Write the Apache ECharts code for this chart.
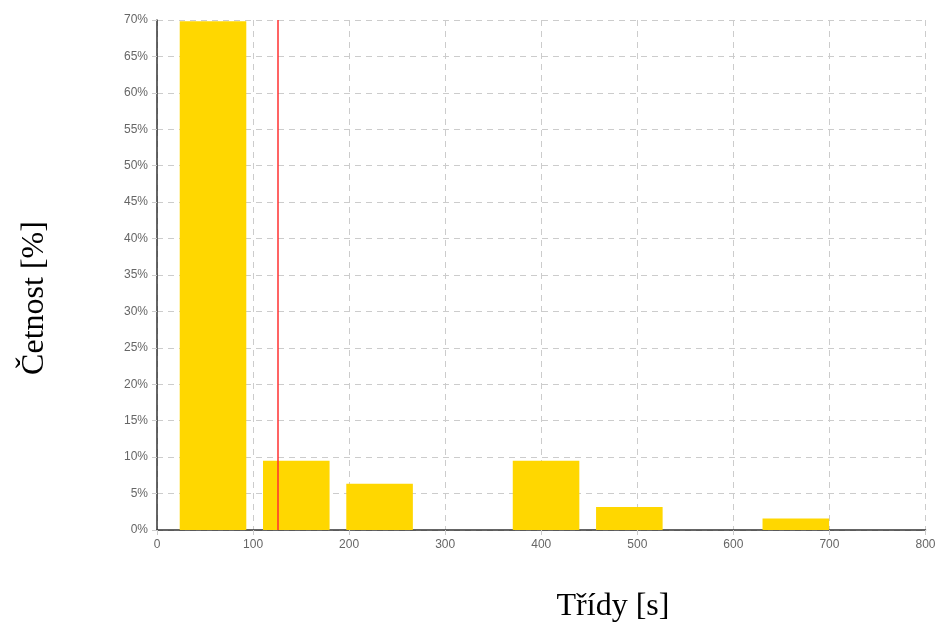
<!DOCTYPE html>
<html>
<head>
<meta charset="utf-8">
<script src="https://cdn.jsdelivr.net/npm/echarts@6/dist/echarts.min.js"></script>
<style>
  html, body { margin: 0; padding: 0; background: #fff; }
  #chart { width: 941px; height: 628px; }
</style>
</head>
<body>
<div id="chart"></div>
<script>
// Histogram classes (centres, in seconds) and relative frequencies in %
const classCenters = [58.3, 145.0, 231.7, 318.3, 405.0, 491.7, 578.3, 665.0];
const frequencies = [69.84, 9.52, 6.35, 0, 9.52, 3.17, 0, 1.59];
const barSpan = 69.3;      // drawn width of each class bar, seconds
const meanValue = 126;     // position of the red reference line
const xTicks = [0, 100, 200, 300, 400, 500, 600, 700, 800];
const yTicks = [0, 5, 10, 15, 20, 25, 30, 35, 40, 45, 50, 55, 60, 65, 70];

const chart = echarts.init(document.getElementById('chart'));

const barData = classCenters.map((c, i) => [c, frequencies[i]]);

chart.setOption({
  animation: false,
  grid: { left: 157, right: 15.5, top: 20, bottom: 98, containLabel: false },
  xAxis: {
    type: 'value',
    min: xTicks[0],
    max: xTicks[xTicks.length - 1],
    interval: 100,
    axisLine: { show: true, onZero: false, lineStyle: { color: '#333', width: 1.5 } },
    axisTick: { show: true, length: 5, lineStyle: { color: '#ccc' } },
    axisLabel: { color: '#666', fontFamily: 'Liberation Sans', fontSize: 12, margin: 9 },
    splitLine: { show: true, lineStyle: { color: '#ccc', type: [6, 5], width: 1 } }
  },
  yAxis: {
    type: 'value',
    min: yTicks[0],
    max: yTicks[yTicks.length - 1],
    interval: 5,
    axisLine: { show: true, lineStyle: { color: '#333', width: 1.5 } },
    axisTick: { show: true, length: 5, lineStyle: { color: '#ccc' } },
    axisLabel: { color: '#666', fontFamily: 'Liberation Sans', fontSize: 12, margin: 9, formatter: '{value}%' },
    splitLine: { show: true, lineStyle: { color: '#ccc', type: [6, 5], width: 1 } }
  },
  graphic: [
    {
      type: 'text',
      rotation: Math.PI / 2,
      x: 35, y: 298,
      style: { text: 'Četnost [%]', font: '32px "Liberation Serif"', fill: '#000', align: 'center', verticalAlign: 'middle' }
    },
    {
      type: 'text',
      x: 613, y: 607,
      style: { text: 'Třídy [s]', font: '32px "Liberation Serif"', fill: '#000', align: 'center', verticalAlign: 'middle' }
    }
  ],
  series: [
    {
      type: 'custom',
      data: barData,
      renderItem: function (params, api) {
        const c = api.value(0);
        const v = api.value(1);
        const p0 = api.coord([c - barSpan / 2, v]);
        const p1 = api.coord([c + barSpan / 2, 0]);
        return {
          type: 'rect',
          shape: { x: p0[0], y: p0[1], width: p1[0] - p0[0], height: p1[1] - p0[1] },
          style: { fill: '#FFD700' }
        };
      },
      encode: { x: 0, y: 1 },
      z: 2,
      markLine: {
        silent: true,
        symbol: 'none',
        label: { show: false },
        lineStyle: { color: '#ff3030', width: 1.5, type: 'solid' },
        data: [{ xAxis: meanValue }]
      }
    }
  ]
});
</script>
</body>
</html>
